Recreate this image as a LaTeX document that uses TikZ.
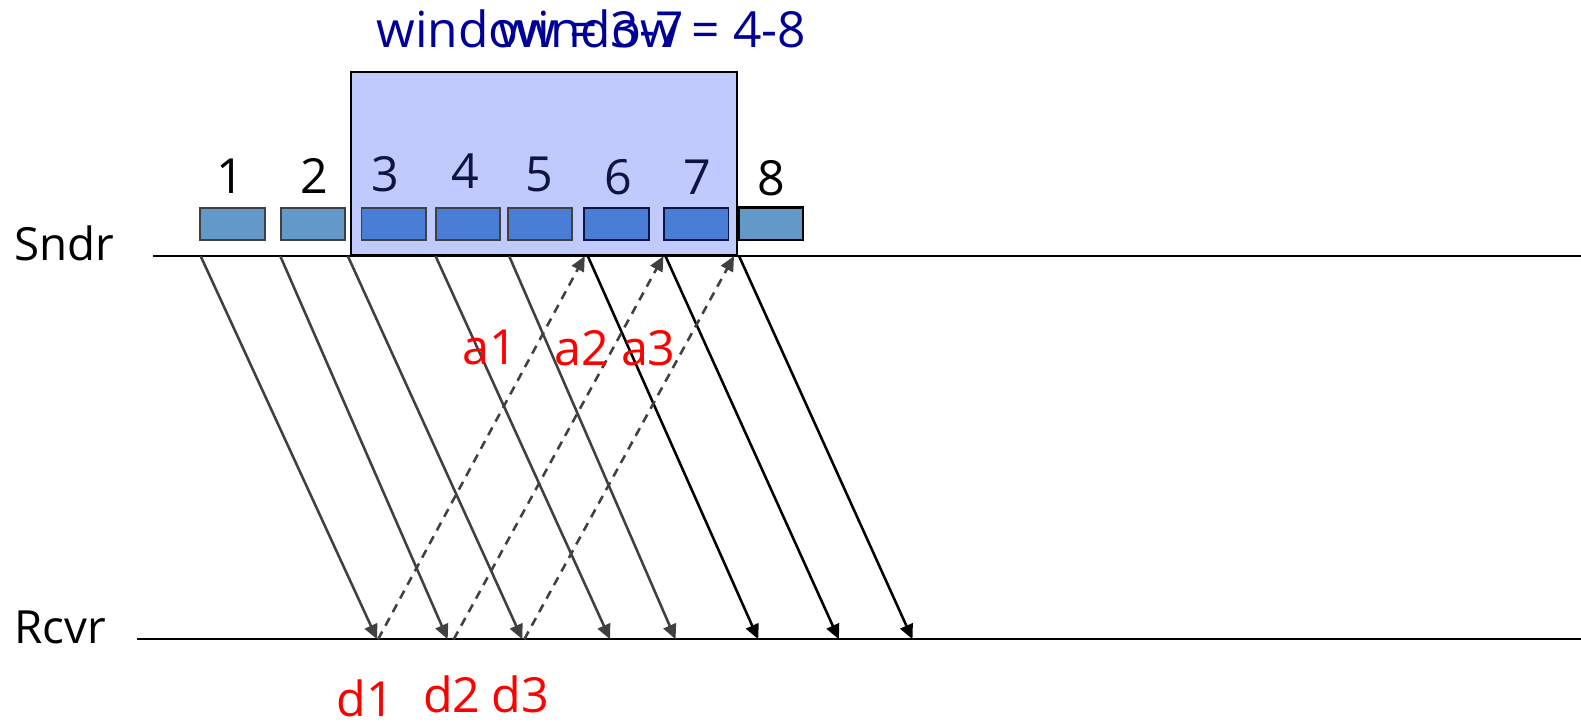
\documentclass[tikz,border=0pt]{standalone}
\usepackage{fontspec}
\setmainfont{Open Sans}
\usetikzlibrary{arrows.meta}

\definecolor{winfill}{RGB}{192,202,252}
\definecolor{pktout}{RGB}{99,153,201}
\definecolor{pktin}{RGB}{74,125,214}
\definecolor{titleblue}{RGB}{0,0,153}
\definecolor{linegray}{RGB}{64,64,64}
\definecolor{numnavy}{RGB}{16,20,64}
\definecolor{labelred}{RGB}{255,0,0}

\tikzset{every picture/.style={line width=0.75pt}}
\tikzset{
  pkt/.style={draw=linegray, line width=1.4pt, minimum width=48pt, minimum height=24pt, inner sep=0pt},
  numlbl/.style={anchor=base, inner sep=0.75pt, font=\fontsize{36}{40}\selectfont},
  redlbl/.style={inner sep=0.75pt, text=labelred, font=\fontsize{36}{40}\selectfont},
  sidelbl/.style={anchor=base west, inner sep=0pt, font=\fontsize{34}{38}\selectfont},
  titlelbl/.style={inner sep=0pt, text=titleblue, font=\fontsize{37}{40}\selectfont},
  datamsg/.style={draw=linegray, line width=1.9pt, -{Triangle[length=11pt,width=10pt]}},
  ackmsg/.style={datamsg, dash pattern=on 6.5pt off 5pt}
}

\begin{document}
\begin{tikzpicture}[x=0.75pt,y=0.75pt,yscale=-1,xscale=1]
\useasboundingbox (0,0) rectangle (1568,720);

%Shape: Rectangle [window]
\draw [draw=black, fill=winfill, line width=1.5pt] (348,71) rectangle (731,253);

%Shape: Packets
\node [pkt, fill=pktout] (p1) at (230.5,222) {};
\node [pkt, fill=pktout] (p2) at (310.5,222) {};
\node [pkt, fill=pktin] (p3) at (390.5,222) {};
\node [pkt, fill=pktin] (p4) at (464,222) {};
\node [pkt, fill=pktin] (p5) at (535.5,222) {};
\node [pkt, fill=pktin, draw=numnavy] (p6) at (611.5,222) {};
\node [pkt, fill=pktin, draw=numnavy] (p7) at (690.5,222) {};
\node [pkt, fill=pktout, draw=black, line width=1.8pt] (p8) at (764.5,222) {};

%Straight Lines [sender, receiver]
\coordinate (sndrL) at (152,254);
\coordinate (sndrR) at (1568,254);
\coordinate (rcvrL) at (136,634);
\coordinate (rcvrR) at (1568,634);
\draw [line width=1.6pt] (sndrL) -- (sndrR);
\draw [line width=1.6pt] (rcvrL) -- (rcvrR);

%Straight Lines [data]
\coordinate (s1) at (199,254);  \coordinate (r1) at (374,634);
\coordinate (s2) at (278,254);  \coordinate (r2) at (444,634);
\coordinate (s3) at (345,254);  \coordinate (r3) at (518,634);
\coordinate (s4) at (432,254);  \coordinate (r4) at (605,634);
\coordinate (s5) at (505,254);  \coordinate (r5) at (670,634);
\coordinate (s6) at (583,254);  \coordinate (r6) at (752,634);
\coordinate (s7) at (660,254);  \coordinate (r7) at (832,634);
\coordinate (s8) at (733,254);  \coordinate (r8) at (905,634);
\draw [datamsg] (s1) -- (r1);
\draw [datamsg] (s2) -- (r2);
\draw [datamsg] (s3) -- (r3);
\draw [datamsg] (s4) -- (r4);
\draw [datamsg] (s5) -- (r5);
\draw [datamsg, draw=black] (s6) -- (r6);
\draw [datamsg, draw=black] (s7) -- (r7);
\draw [datamsg, draw=black] (s8) -- (r8);

%Straight Lines [acks]
\coordinate (k1) at (375,634);  \coordinate (j1) at (580,254);
\coordinate (k2) at (450,634);  \coordinate (j2) at (658,254);
\coordinate (k3) at (520,634);  \coordinate (j3) at (728,254);
\draw [ackmsg] (k1) -- (j1);
\draw [ackmsg] (k2) -- (j2);
\draw [ackmsg] (k3) -- (j3);

% Text Node
\node [titlelbl, anchor=base west] (winold) at (373,47) {window = 3-7};
% Text Node
\node [titlelbl, anchor=base east] (winnew) at (800,47) {window = 4-8};
% Text Node
\node [numlbl] (n1) at (228,192) {1};
\node [numlbl] (n2) at (312,192) {2};
\node [numlbl, text=numnavy] (n3) at (382,190) {3};
\node [numlbl, text=numnavy] (n4) at (462,187) {4};
\node [numlbl, text=numnavy] (n5) at (535,190) {5};
\node [numlbl, text=numnavy] (n6) at (613,193) {6};
\node [numlbl, text=numnavy] (n7) at (692,193) {7};
\node [numlbl] (n8) at (765,194) {8};
% Text Node
\node [sidelbl] (sndr) at (14,258) {Sndr};
\node [sidelbl] (rcvr) at (14,638) {Rcvr};
% Text Node
\node [redlbl] (a1) at (486,345) {a1};
\node [redlbl] (a2) at (577,345) {a2};
\node [redlbl] (a3) at (643,345) {a3};
\node [redlbl] (d1) at (362,693) {d1};
\node [redlbl] (d2) at (448,689) {d2};
\node [redlbl] (d3) at (516,689) {d3};

\end{tikzpicture}
\end{document}
